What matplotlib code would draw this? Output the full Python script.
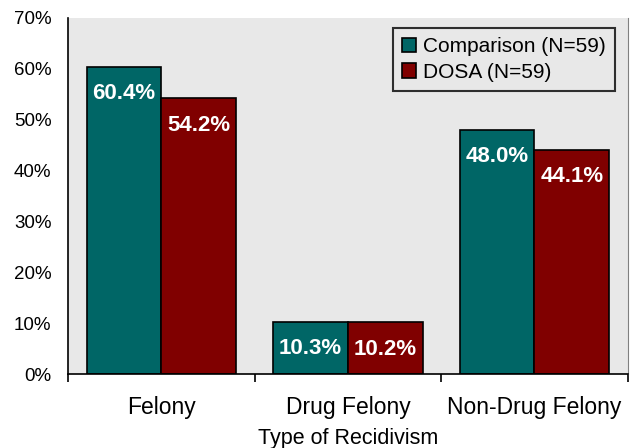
import matplotlib.pyplot as plt
import numpy as np

plt.rcParams['font.family'] = ['Liberation Sans', 'DejaVu Sans']

categories = ["Felony", "Drug Felony", "Non-Drug Felony"]
comparison = [60.4, 10.3, 48.0]
dosa = [54.2, 10.2, 44.1]
series_names = ["Comparison (N=59)", "DOSA (N=59)"]

fig = plt.figure(figsize=(6.36, 4.48), dpi=100)
ax = fig.add_axes([0.107, 0.165, 0.88, 0.795])
ax.set_facecolor('#e8e8e8')

x = np.arange(len(categories))
w = 0.40
b1 = ax.bar(x - w / 2, comparison, w, color='#006666', edgecolor='black', linewidth=1.2, label=series_names[0])
b2 = ax.bar(x + w / 2, dosa, w, color='#800000', edgecolor='black', linewidth=1.2, label=series_names[1])

for bars, vals in [(b1, comparison), (b2, dosa)]:
    for bar, v in zip(bars, vals):
        ax.annotate(f"{v:.1f}%", (bar.get_x() + bar.get_width() / 2, v),
                    xytext=(0, -19.5), textcoords='offset points', ha='center', va='center',
                    color='white', fontweight='bold', fontsize=16)

ax.set_xlim(-0.5, 2.5)
ax.set_ylim(0, 70)
ax.set_yticks(range(0, 71, 10))
ax.set_yticklabels([f"{t}%" for t in range(0, 71, 10)], fontsize=13.5)
ax.tick_params(axis='y', length=0, pad=12)

ax.set_xticks(x)
ax.set_xticklabels(categories, fontsize=16.5)
ax.set_xticks([-0.5, 0.5, 1.5, 2.5], minor=True)
ax.tick_params(axis='x', which='major', length=0, pad=16)
ax.tick_params(axis='x', which='minor', length=6, width=1.2, direction='out')
ax.set_xlabel("Type of Recidivism", fontsize=15.5, labelpad=6)

ax.spines['top'].set_visible(False)
ax.spines['right'].set_color('#808080')
ax.spines['left'].set_linewidth(1.2)
ax.spines['bottom'].set_linewidth(1.2)

leg = ax.legend(loc='upper right', bbox_to_anchor=(0.977, 0.972), borderaxespad=0, fontsize=15,
                frameon=True, fancybox=False, handlelength=0.7, handleheight=0.7, handletextpad=0.3,
                borderpad=0.45, labelspacing=0.3)
leg.get_frame().set_edgecolor('black')
leg.get_frame().set_linewidth(1.5)
leg.get_frame().set_facecolor('#e8e8e8')

fig.savefig("out.png", dpi=100)
